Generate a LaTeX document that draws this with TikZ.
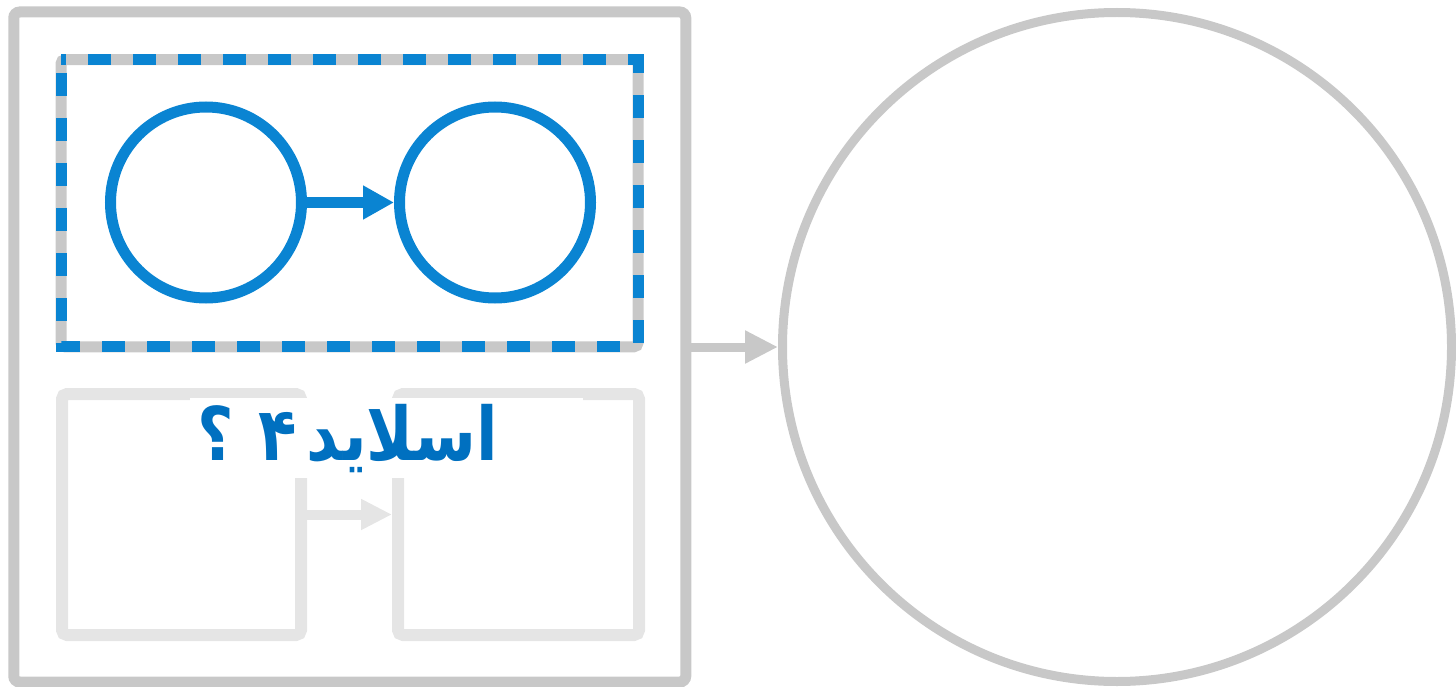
\documentclass[tikz,border=0pt]{standalone}
\usepackage{fontspec}
\newfontfamily\arabicfont[Script=Arabic, FakeStretch=0.85]{DejaVu Sans}
\TeXXeTstate=1
\usetikzlibrary{arrows.meta}
\definecolor{framegray}{HTML}{C8C8C8}
\definecolor{lightgray2}{HTML}{E5E5E5}
\definecolor{circblue}{HTML}{0A84D2}
\definecolor{textblue}{HTML}{0070C0}
\tikzset{
  framebox/.style={draw=framegray, line width=11pt, rounded corners=6pt, minimum width=672pt, minimum height=670pt, inner sep=0pt},
  bigcirc/.style={draw=framegray, line width=9pt, circle, minimum size=669pt, inner sep=0pt},
  bluecirc/.style={draw=circblue, line width=11pt, circle, minimum size=191pt, inner sep=0pt},
  dashbox/.style={draw=framegray, line width=11pt, rounded corners=4pt, minimum width=577pt, minimum height=287pt, inner sep=0pt},
  lightbox/.style={draw=lightgray2, line width=12pt, rounded corners=5pt, inner sep=0pt},
  bluearrow/.style={draw=circblue, line width=11pt, -{Triangle[length=31pt,width=32pt]}},
  grayarrow/.style={draw=framegray, line width=9pt, -{Triangle[length=33pt,width=31pt]}},
  lightarrow/.style={draw=lightgray2, line width=10pt, -{Triangle[length=31pt,width=29pt]}},
  labeltext/.style={fill=white, text=textblue, font=\arabicfont\bfseries\fontsize{74pt}{80pt}\selectfont, inner xsep=7pt, inner ysep=0pt, text height=62pt, text depth=18pt, text width=379pt, align=left, anchor=base west}
}
\begin{document}
\begin{tikzpicture}[x=1pt,y=-1pt]
\useasboundingbox (0,0) rectangle (1456,687);
% outer frame
\node[framebox] (frame) at (349.75,347) {};
% dashed inner box
\node[dashbox] (dbox) at (349.5,203.25) {};
\draw[circblue, line width=11pt, dash pattern=on 23pt off 22pt, dash phase=32pt]
  (dbox.north west) ++(5.5,5.5) rectangle ([xshift=-5.5pt,yshift=5.5pt]dbox.south east);
% blue circles
\node[bluecirc] (c1) at (206,202.5) {};
\node[bluecirc] (c2) at (495,202.5) {};
\draw[bluearrow] (c1) -- (c2);
% light boxes
\node[lightbox, minimum width=239pt, minimum height=241pt] (b1) at (181.5,514.5) {};
\node[lightbox, minimum width=241pt, minimum height=241pt] (b2) at (518.5,514.5) {};
\draw[lightarrow] (b1.east) -- (b2.west);
% label
\node[labeltext] (lbl) at (190,460) {\beginR اسلاید\kern10pt ۴ ؟\endR};
% big circle
\node[bigcirc] (bc) at (1117,347) {};
\draw[grayarrow] (frame.east) -- (bc.west);
\end{tikzpicture}
\end{document}
